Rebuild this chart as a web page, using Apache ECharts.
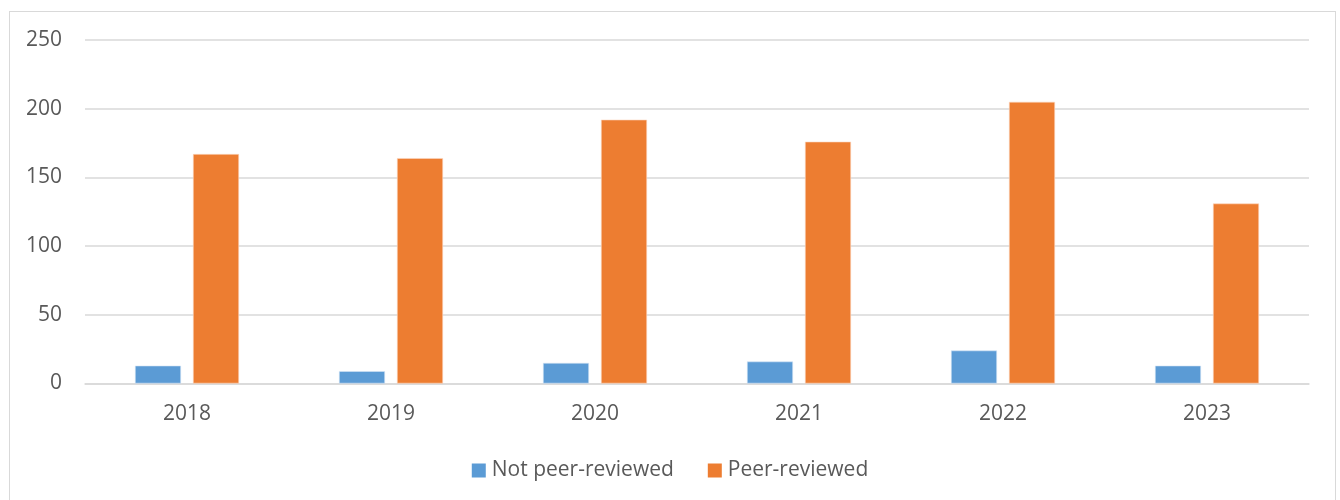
<!DOCTYPE html>
<html>
<head>
<meta charset="utf-8">
<script src="https://cdn.jsdelivr.net/npm/echarts@6/dist/echarts.min.js"></script>
<style>
  html, body { margin: 0; padding: 0; background: #fff; }
  #frame {
    position: absolute; left: 9px; top: 11px; width: 1327px; height: 520px;
    border: 1.5px solid #d9d9d9; box-sizing: border-box;
  }
  #chart { position: absolute; left: 0; top: 0; width: 1340px; height: 500px; }
</style>
</head>
<body>
<div id="frame"></div>
<div id="chart"></div>
<script>
const years = ["2018", "2019", "2020", "2021", "2022", "2023"];
const notPeerReviewed = [13, 9, 15, 16, 24, 13];
const peerReviewed = [167, 164, 192, 176, 205, 131];
const yTicks = { min: 0, max: 250, interval: 50 };

const textColor = "#595959";
const gridColor = "#d9d9d9";
const fontFamily = "'Open Sans', 'Liberation Sans', sans-serif";

const chart = echarts.init(document.getElementById("chart"));

chart.setOption({
  animation: false,
  textStyle: { fontFamily },
  grid: { left: 85, right: 31, top: 40, bottom: 116.5, containLabel: false },
  legend: {
    top: 455,
    left: "center",
    itemWidth: 14,
    itemHeight: 14,
    itemGap: 34,
    icon: "rect",
    itemStyle: { borderWidth: 0 },
    textStyle: { color: textColor, fontSize: 21, fontFamily, padding: [0, 0, 0, 1] },
    data: ["Not peer-reviewed", "Peer-reviewed"]
  },
  xAxis: {
    type: "category",
    data: years,
    axisLine: { show: true, lineStyle: { color: gridColor, width: 1.5 } },
    axisTick: { show: false },
    axisLabel: { color: textColor, fontSize: 21, margin: 20 }
  },
  yAxis: {
    type: "value",
    min: yTicks.min,
    max: yTicks.max,
    interval: yTicks.interval,
    axisLine: { show: false },
    axisTick: { show: false },
    axisLabel: { color: textColor, fontSize: 21, margin: 23 },
    splitLine: { lineStyle: { color: gridColor, width: 1.5 } }
  },
  series: [
    {
      name: "Not peer-reviewed",
      type: "bar",
      data: notPeerReviewed,
      barGap: "26%",
      barCategoryGap: "49%",
      itemStyle: { color: "#5b9bd5", borderColor: "#d6e6f5", borderWidth: 0.6 }
    },
    {
      name: "Peer-reviewed",
      type: "bar",
      data: peerReviewed,
      barGap: "26%",
      barCategoryGap: "49%",
      itemStyle: { color: "#ed7d31", borderColor: "#fbd9c2", borderWidth: 0.6 }
    }
  ]
});
</script>
</body>
</html>
